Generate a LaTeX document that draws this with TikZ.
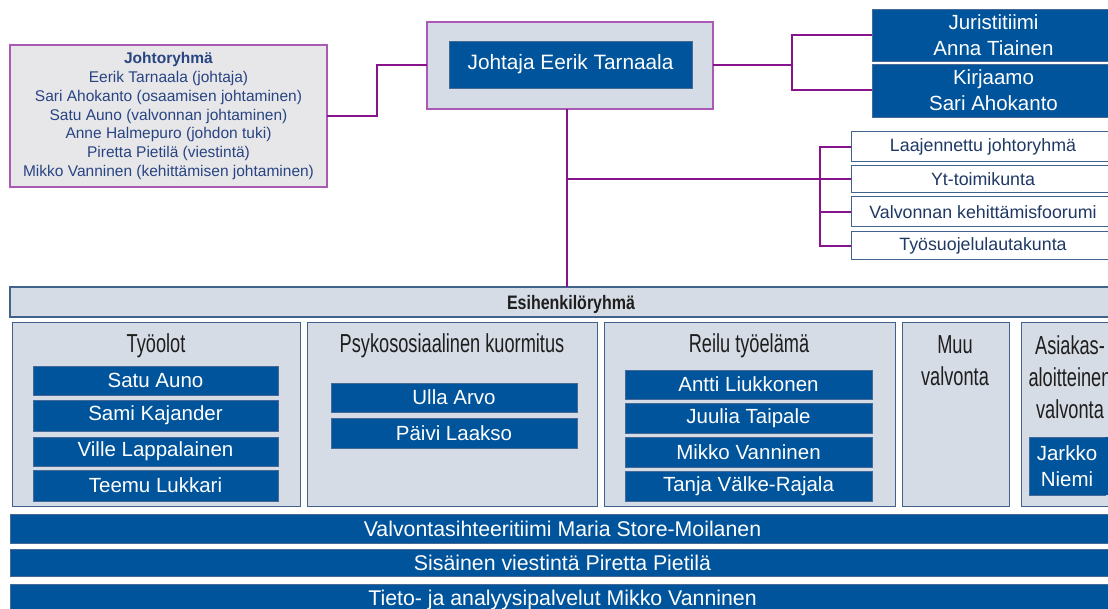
\documentclass[tikz,border=0pt]{standalone}
\usepackage{fontspec}
\setmainfont{Liberation Sans}
\newfontfamily\cond[FakeStretch=0.7]{Liberation Sans}
\newfontfamily\condb[FakeStretch=0.82]{Liberation Sans}
\definecolor{dblue}{RGB}{0,84,155}
\definecolor{dbord}{RGB}{70,105,150}
\definecolor{lgray}{RGB}{214,220,229}
\definecolor{jgray}{RGB}{231,231,233}
\definecolor{gbord}{RGB}{65,98,138}
\definecolor{navy}{RGB}{40,68,130}
\definecolor{cnavy}{RGB}{31,56,100}
\definecolor{purp}{RGB}{135,20,140}
\definecolor{lpurp}{RGB}{170,90,180}
\definecolor{hdrtxt}{RGB}{30,30,30}
\newcommand\bx[7]{\node[#1,anchor=north west,minimum width={(#5)-(#3)},minimum height={(#6)-(#4)}] (#2) at (#3,#4) {#7};}
\tikzset{
  every node/.style={inner sep=0pt,outer sep=0pt,align=center},
  darkbox/.style={fill=dblue,draw=dbord,line width=0.8pt,text=white,font=\fontsize{20.5}{24}\selectfont},
  groupbox/.style={fill=lgray,draw=gbord,line width=1pt},
  combox/.style={fill=white,draw=gbord,line width=1pt,text=cnavy,font=\fontsize{17.8}{20}\selectfont},
  hdr/.style={text=hdrtxt,font=\cond\fontsize{26}{32}\selectfont},
  conn/.style={draw=purp,line width=2pt},
}
\begin{document}
\begin{tikzpicture}[x=1pt,y=-1pt]
\useasboundingbox[fill=white] (0,0) rectangle (1108,609);
% Johtoryhma
\bx{fill=jgray,draw=lpurp,line width=1.5pt,text=navy,font=\fontsize{15.5}{18.8}\selectfont}{jr}{10}{45}{327}{187}{\textbf{Johtoryhmä}\\Eerik Tarnaala (johtaja)\\Sari Ahokanto (osaamisen johtaminen)\\Satu Auno (valvonnan johtaminen)\\Anne Halmepuro (johdon tuki)\\Piretta Pietilä (viestintä)\\Mikko Vanninen (kehittämisen johtaminen)}
% Johtaja
\bx{fill=lgray,draw=lpurp,line width=1.5pt}{jo}{427}{22}{713}{109}{}
\bx{darkbox,font=\fontsize{20.8}{24}\selectfont}{joi}{449}{41}{692}{88}{Johtaja Eerik Tarnaala}
% Juristi / Kirjaamo
\bx{darkbox,font=\fontsize{20.5}{26}\selectfont}{jur}{872}{9}{1115}{61}{Juristitiimi\\Anna Tiainen}
\bx{darkbox,font=\fontsize{20.5}{26}\selectfont}{kir}{872}{64}{1115}{117}{Kirjaamo\\Sari Ahokanto}
% committees
\bx{combox}{laa}{851}{132}{1115}{162}{Laajennettu johtoryhmä}
\bx{combox}{yt}{851}{166}{1115}{193}{Yt-toimikunta}
\bx{combox}{val}{851}{197}{1115}{227}{Valvonnan kehittämisfoorumi}
\bx{combox}{tsl}{851}{232}{1115}{260}{Työsuojelulautakunta}
% Esihenkiloryhma
\bx{fill=lgray,draw=gbord,line width=1.2pt}{esi}{10}{287}{1115}{317}{}
\node[font=\condb\bfseries\fontsize{19.5}{20}\selectfont,text=hdrtxt] (esit) at (571,304) {Esihenkilöryhmä};
% groups
\bx{groupbox}{g1}{12}{323}{300}{506}{}
\bx{groupbox}{g2}{307}{323}{597}{506}{}
\bx{groupbox}{g3}{604}{323}{895}{506}{}
\bx{groupbox}{g4}{902}{323}{1009}{506}{}
\bx{groupbox}{g5}{1021}{323}{1118}{506}{}
\node[hdr] (h1) at (156,346) {Työolot};
\node[hdr] (h2) at (452,346) {Psykososiaalinen kuormitus};
\node[hdr] (h3) at (749,346) {Reilu työelämä};
\node[hdr] (h4) at (955,361) {Muu\\valvonta};
\node[hdr] (h5) at (1070,377) {Asiakas-\\aloitteinen\\valvonta};
% names
\bx{darkbox}{n1}{33}{366}{278}{395}{Satu Auno}
\bx{darkbox}{n2}{33}{400}{278}{431}{Sami Kajander}
\bx{darkbox}{n3}{33}{437}{278}{466}{Ville Lappalainen}
\bx{darkbox}{n4}{33}{470}{278}{501}{Teemu Lukkari}
\bx{darkbox}{n5}{331}{383}{577}{412}{Ulla Arvo}
\bx{darkbox}{n6}{331}{418}{577}{448}{Päivi Laakso}
\bx{darkbox}{n7}{625}{370}{872}{399}{Antti Liukkonen}
\bx{darkbox}{n8}{625}{403}{872}{433}{Juulia Taipale}
\bx{darkbox}{n9}{625}{437}{872}{467}{Mikko Vanninen}
\bx{darkbox}{n10}{625}{471}{872}{501}{Tanja Välke-Rajala}
\bx{darkbox,font=\fontsize{20.5}{26}\selectfont}{n11}{1029}{437}{1105}{495}{Jarkko\\Niemi}
\fill[dblue] (1105,437) rectangle (1112,495);
% bottom bars
\bx{darkbox,font=\fontsize{21.3}{24}\selectfont}{b1}{10}{514}{1115}{543}{Valvontasihteeritiimi Maria Store-Moilanen}
\bx{darkbox,font=\fontsize{21.3}{24}\selectfont}{b2}{10}{549}{1115}{576}{Sisäinen viestintä Piretta Pietilä}
\bx{darkbox,font=\fontsize{21.3}{24}\selectfont}{b3}{10}{584}{1115}{615}{Tieto- ja analyysipalvelut Mikko Vanninen}
% connectors
\coordinate (vx) at (567,0);
\coordinate (rb) at (792,0);
\coordinate (bus) at (820,0);
\draw[conn] (jr.east) -- ++(50,0) |- (jo.west);
\draw[conn] (jo.east) -- (jo.east -| rb);
\draw[conn] (jur.west) -| (kir.west -| rb) -- (kir.west);
\draw[conn] (jo.south -| vx) -- (esi.north -| vx);
\draw[conn] (yt.west -| vx) -- (yt.west);
\draw[conn] (laa.west) -- (laa.west -| bus) -- (tsl.west -| bus) -- (tsl.west);
\draw[conn] (val.west -| bus) -- (val.west);
\end{tikzpicture}
\end{document}
